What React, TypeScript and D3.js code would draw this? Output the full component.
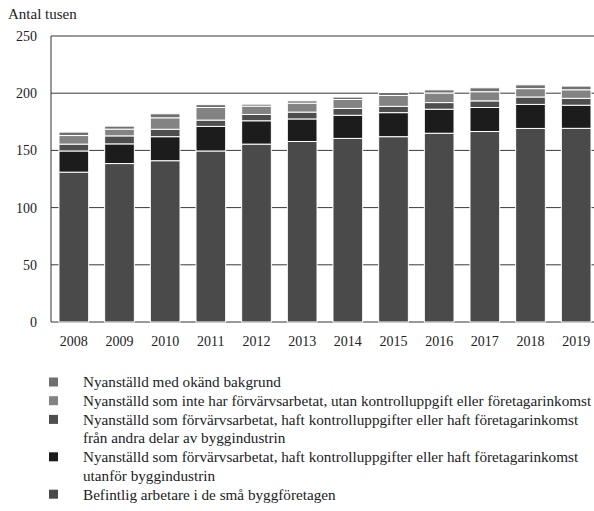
import React, { useEffect, useRef } from 'react';
import * as d3 from 'd3';

// Antal tusen
const years = ['2008', '2009', '2010', '2011', '2012', '2013', '2014', '2015', '2016', '2017', '2018', '2019'];
const befintlig = [131, 138.5, 141, 149.5, 155.5, 157.8, 160.5, 162, 165, 166.5, 169.2, 169.3];
const utanfor = [18.5, 17.2, 21, 21.5, 20.4, 19.7, 20.2, 21, 21, 21, 21, 20.2];
const andraDelar = [6, 7, 6.5, 5.5, 5.5, 6, 6, 5.5, 5.8, 5.8, 6.5, 6];
const inteArbetat = [7.5, 5.9, 10, 11, 7.3, 7.8, 7.8, 9.5, 8.4, 8, 7.3, 7.5];
const okand = [3, 2.6, 3.5, 2.5, 1.7, 2, 2.1, 2.6, 2.7, 3.4, 3.3, 3.2];
const yTicks = [0, 50, 100, 150, 200, 250];

// bottom to top
const seriesKeys = ['befintlig', 'utanfor', 'andraDelar', 'inteArbetat', 'okand'];
const seriesColors = ['#4a4a4a', '#1c1c1c', '#4e4e4e', '#838383', '#707070'];

// legend order as in the reference (top of stack first)
const legendItems = [
  { key: 'okand', lines: ['Nyanställd med okänd bakgrund'] },
  { key: 'inteArbetat', lines: ['Nyanställd som inte har förvärvsarbetat, utan kontrolluppgift eller företagarinkomst'] },
  { key: 'andraDelar', lines: ['Nyanställd som förvärvsarbetat, haft kontrolluppgifter eller haft företagarinkomst', 'från andra delar av byggindustrin'] },
  { key: 'utanfor', lines: ['Nyanställd som förvärvsarbetat, haft kontrolluppgifter eller haft företagarinkomst', 'utanför byggindustrin'] },
  { key: 'befintlig', lines: ['Befintlig arbetare i de små byggföretagen'] },
];

const App = () => {
  const svgRef = useRef<SVGSVGElement | null>(null);

  useEffect(() => {
    if (!svgRef.current) return;
    const svg = d3.select(svgRef.current);
    svg.selectAll('*').remove();

    const font = '"Liberation Serif", "DejaVu Serif", serif';
    const left = 51;

    const rows = years.map((yr, i) => ({
      year: yr,
      befintlig: befintlig[i],
      utanfor: utanfor[i],
      andraDelar: andraDelar[i],
      inteArbetat: inteArbetat[i],
      okand: okand[i],
    }));

    const x = d3.scaleBand<string>()
      .domain(years)
      .range([left, 599])
      .paddingInner(0.35)
      .paddingOuter(0.175);

    const y = d3.scaleLinear().domain([0, 250]).range([322, 36]);

    // y axis label
    svg.append('text')
      .attr('x', 8)
      .attr('y', 19)
      .attr('font-family', font)
      .attr('font-size', 15)
      .attr('fill', '#222')
      .text('Antal tusen');

    // grid lines
    svg.append('g')
      .selectAll('line')
      .data(yTicks)
      .enter()
      .append('line')
      .attr('x1', left)
      .attr('x2', 594)
      .attr('y1', d => y(d))
      .attr('y2', d => y(d))
      .attr('stroke', d => (d === 0 || d === 250 ? '#777' : '#3a3a3a'))
      .attr('stroke-width', d => (d === 0 || d === 250 ? 1.5 : 1));

    // y tick labels
    svg.append('g')
      .selectAll('text')
      .data(yTicks)
      .enter()
      .append('text')
      .attr('x', 37)
      .attr('y', d => y(d))
      .attr('dy', '0.35em')
      .attr('text-anchor', 'end')
      .attr('font-family', font)
      .attr('font-size', 14)
      .attr('fill', '#222')
      .text(d => d);

    // stacked bars
    const stack = d3.stack<any>().keys(seriesKeys);
    const stacked = stack(rows);

    svg.append('g')
      .selectAll('g')
      .data(stacked)
      .enter()
      .append('g')
      .attr('fill', (_, i) => seriesColors[i])
      .selectAll('rect')
      .data(d => d)
      .enter()
      .append('rect')
      .attr('x', d => x(d.data.year) as number)
      .attr('width', x.bandwidth())
      .attr('y', d => y(d[1]))
      .attr('height', d => y(d[0]) - y(d[1]))
      .attr('stroke', '#ffffff')
      .attr('stroke-width', 1);

    // left axis line
    svg.append('line')
      .attr('x1', left)
      .attr('x2', left)
      .attr('y1', y(250))
      .attr('y2', y(0))
      .attr('stroke', '#333')
      .attr('stroke-width', 1);

    // year labels
    svg.append('g')
      .selectAll('text')
      .data(years)
      .enter()
      .append('text')
      .attr('x', d => (x(d) as number) + x.bandwidth() / 2)
      .attr('y', 346)
      .attr('text-anchor', 'middle')
      .attr('font-family', font)
      .attr('font-size', 14)
      .attr('fill', '#222')
      .text(d => d);

    // legend
    const legend = svg.append('g');
    let ly = 382;
    const lineH = 18.7;
    legendItems.forEach(item => {
      const idx = seriesKeys.indexOf(item.key);
      legend.append('rect')
        .attr('x', 49)
        .attr('y', ly - 4.5)
        .attr('width', 9)
        .attr('height', 9)
        .attr('fill', seriesColors[idx]);
      item.lines.forEach((ln, j) => {
        legend.append('text')
          .attr('x', 83)
          .attr('y', ly + j * lineH)
          .attr('dy', '0.35em')
          .attr('font-family', font)
          .attr('font-size', 15.2)
          .attr('fill', '#222')
          .text(ln);
      });
      ly += item.lines.length * lineH;
    });
  }, []);

  return (
    <div style={{ position: 'absolute', left: 0, top: 0 }}>
      <svg ref={svgRef} width={594} height={511} style={{ display: 'block', background: '#fff' }}></svg>
    </div>
  );
};

export default App;
